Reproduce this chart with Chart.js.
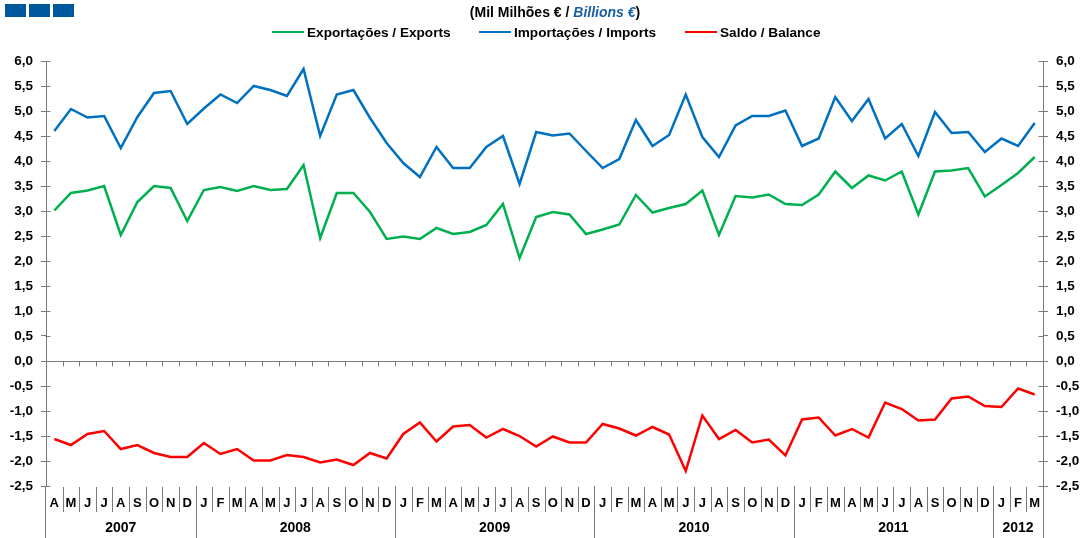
<!DOCTYPE html>
<html>
<head>
<meta charset="utf-8">
<script src="https://cdn.jsdelivr.net/npm/chart.js@4.4.1/dist/chart.umd.min.js"></script>
<style>
  html, body { margin: 0; padding: 0; background: #fff; }
  #wrap { position: relative; width: 1086px; height: 538px; font-family: "Liberation Sans", Arial, sans-serif; }
  #c { position: absolute; left: 0; top: 0; }
  .sq { position: absolute; top: 4px; width: 21px; height: 13px; background: #00589c; }
  #title { position: absolute; top: 4px; left: 0; width: 1110px; text-align: center; font-weight: bold; font-size: 14px; color: #000; }
  #title i { color: #1a5ea8; }
  .leg { position: absolute; top: 25px; font-weight: bold; font-size: 13.6px; color: #000; white-space: nowrap; }
  .leg span.ln { display: inline-block; width: 32px; height: 2px; vertical-align: middle; margin-right: 3px; position: relative; top: -1px; }
</style>
</head>
<body>
<div id="wrap">
  <canvas id="c" width="1086" height="538"></canvas>
  <div class="sq" style="left:5px"></div>
  <div class="sq" style="left:29px"></div>
  <div class="sq" style="left:53px"></div>
  <div id="title">(Mil Milhões € / <i>Billions €</i>)</div>
  <div class="leg" style="left:272px"><span class="ln" style="background:#00b050"></span>Exportações / Exports</div>
  <div class="leg" style="left:479px"><span class="ln" style="background:#0070c0"></span>Importações / Imports</div>
  <div class="leg" style="left:685px"><span class="ln" style="background:#ff0000"></span>Saldo / Balance</div>
</div>
<script>
const monthLabels = ['A','M','J','J','A','S','O','N','D',
  'J','F','M','A','M','J','J','A','S','O','N','D',
  'J','F','M','A','M','J','J','A','S','O','N','D',
  'J','F','M','A','M','J','J','A','S','O','N','D',
  'J','F','M','A','M','J','J','A','S','O','N','D',
  'J','F','M'];
const yearLabels = ['2007','2008','2009','2010','2011','2012'];
const monthsPerYear = [9,12,12,12,12,3];

const exportsData = [
  3.01,3.36,3.41,3.50,2.52,3.18,3.50,3.46,2.80,
  3.42,3.48,3.40,3.50,3.42,3.44,3.92,2.46,3.36,3.36,2.98,2.44,
  2.49,2.44,2.66,2.54,2.58,2.72,3.14,2.06,2.88,2.98,2.93,2.54,
  2.63,2.73,3.32,2.97,3.06,3.14,3.41,2.52,3.30,3.27,3.33,3.14,
  3.12,3.33,3.79,3.46,3.71,3.61,3.79,2.93,3.79,3.81,3.86,3.29,
  3.52,3.76,4.08];
const importsData = [
  4.60,5.04,4.87,4.90,4.26,4.88,5.36,5.40,4.74,
  5.05,5.33,5.16,5.50,5.42,5.30,5.84,4.50,5.33,5.42,4.86,4.36,
  3.96,3.68,4.28,3.86,3.86,4.28,4.50,3.54,4.58,4.51,4.55,4.20,
  3.86,4.04,4.82,4.30,4.52,5.33,4.48,4.08,4.71,4.90,4.90,5.01,
  4.30,4.45,5.28,4.80,5.24,4.45,4.74,4.10,4.98,4.56,4.58,4.18,
  4.45,4.30,4.76];
const balanceData = [
  -1.56,-1.68,-1.46,-1.40,-1.76,-1.68,-1.84,-1.92,-1.92,
  -1.64,-1.86,-1.76,-1.99,-1.99,-1.88,-1.92,-2.03,-1.97,-2.08,-1.84,-1.95,
  -1.46,-1.23,-1.61,-1.31,-1.28,-1.53,-1.36,-1.50,-1.71,-1.51,-1.63,-1.63,
  -1.26,-1.35,-1.49,-1.32,-1.47,-2.20,-1.09,-1.56,-1.38,-1.63,-1.57,-1.89,
  -1.17,-1.13,-1.49,-1.36,-1.53,-0.83,-0.96,-1.19,-1.17,-0.75,-0.71,-0.90,
  -0.92,-0.55,-0.67];

const AXIS = '#7a7a7a';
const FONT = '"Liberation Sans", Arial, sans-serif';
const fmt = v => v.toFixed(1).replace('.', ',');

const decor = {
  id: 'decor',
  afterDraw(chart) {
    const ctx = chart.ctx, x = chart.scales.x, y = chart.scales.y, a = chart.chartArea;
    const H = chart.height;
    const n = monthLabels.length;
    const bnd = i => (x.getPixelForValue(i - 1) + x.getPixelForValue(i)) / 2;
    const y0 = Math.round(y.getPixelForValue(0)) + 0.5;
    ctx.save();
    ctx.strokeStyle = AXIS; ctx.lineWidth = 1;
    ctx.beginPath();
    ctx.moveTo(a.left, y0); ctx.lineTo(a.right, y0);
    for (let i = 1; i < n; i++) { const px = Math.round(bnd(i)) + 0.5; ctx.moveTo(px, y0); ctx.lineTo(px, y0 + 5); }
    for (let i = 1; i < n; i++) { const px = Math.round(bnd(i)) + 0.5; ctx.moveTo(px, a.bottom + 1); ctx.lineTo(px, a.bottom + 26); }
    let k = 0;
    for (let j = 0; j < monthsPerYear.length - 1; j++) { k += monthsPerYear[j]; const px = Math.round(bnd(k)) + 0.5; ctx.moveTo(px, a.bottom); ctx.lineTo(px, H); }
    const L = Math.round(a.left) - 0.5, R = Math.round(a.right) + 0.5;
    ctx.moveTo(L, a.bottom); ctx.lineTo(L, H);
    ctx.moveTo(R, a.bottom); ctx.lineTo(R, H);
    y.ticks.forEach(t => { const py = Math.round(y.getPixelForValue(t.value)) + 0.5; ctx.moveTo(L, py); ctx.lineTo(L + 5, py); ctx.moveTo(R, py); ctx.lineTo(R - 5, py); });
    ctx.stroke();
    ctx.fillStyle = '#000'; ctx.textAlign = 'center'; ctx.textBaseline = 'middle';
    ctx.font = 'bold 13px ' + FONT;
    for (let i = 0; i < n; i++) ctx.fillText(monthLabels[i], x.getPixelForValue(i), a.bottom + 17);
    ctx.font = 'bold 14px ' + FONT;
    k = 0;
    for (let j = 0; j < yearLabels.length; j++) {
      const s = k === 0 ? a.left : bnd(k);
      k += monthsPerYear[j];
      const e = k >= n ? a.right : bnd(k);
      ctx.fillText(yearLabels[j], (s + e) / 2, a.bottom + 42);
    }
    ctx.restore();
  }
};

const yCommon = {
  min: -2.5, max: 6,
  grid: { display: true, drawOnChartArea: false, drawTicks: true, tickLength: 5, color: AXIS },
  border: { display: true, color: AXIS },
  ticks: { stepSize: 0.5, padding: 8, color: '#000', font: { family: FONT, size: 13.5, weight: 'bold' }, callback: v => fmt(v) }
};

new Chart(document.getElementById('c'), {
  type: 'line',
  data: {
    labels: monthLabels,
    datasets: [
      { label: 'Exportações / Exports', data: exportsData, borderColor: '#00b050', borderWidth: 2.5, pointRadius: 0, tension: 0, yAxisID: 'y' },
      { label: 'Importações / Imports', data: importsData, borderColor: '#0070c0', borderWidth: 2.5, pointRadius: 0, tension: 0, yAxisID: 'y' },
      { label: 'Saldo / Balance', data: balanceData, borderColor: '#ff0000', borderWidth: 2.5, pointRadius: 0, tension: 0, yAxisID: 'y' }
    ]
  },
  options: {
    responsive: false, animation: false,
    layout: { padding: { top: 61, bottom: 52, left: 0, right: 0 } },
    plugins: { legend: { display: false }, title: { display: false }, tooltip: { enabled: false } },
    scales: {
      x: { type: 'category', offset: true, display: false },
      y: Object.assign({}, yCommon, { position: 'left', afterFit: s => { s.width = 46; } }),
      y2: Object.assign({}, yCommon, { position: 'right', afterFit: s => { s.width = 43; } })
    }
  },
  plugins: [decor]
});
</script>
</body>
</html>
